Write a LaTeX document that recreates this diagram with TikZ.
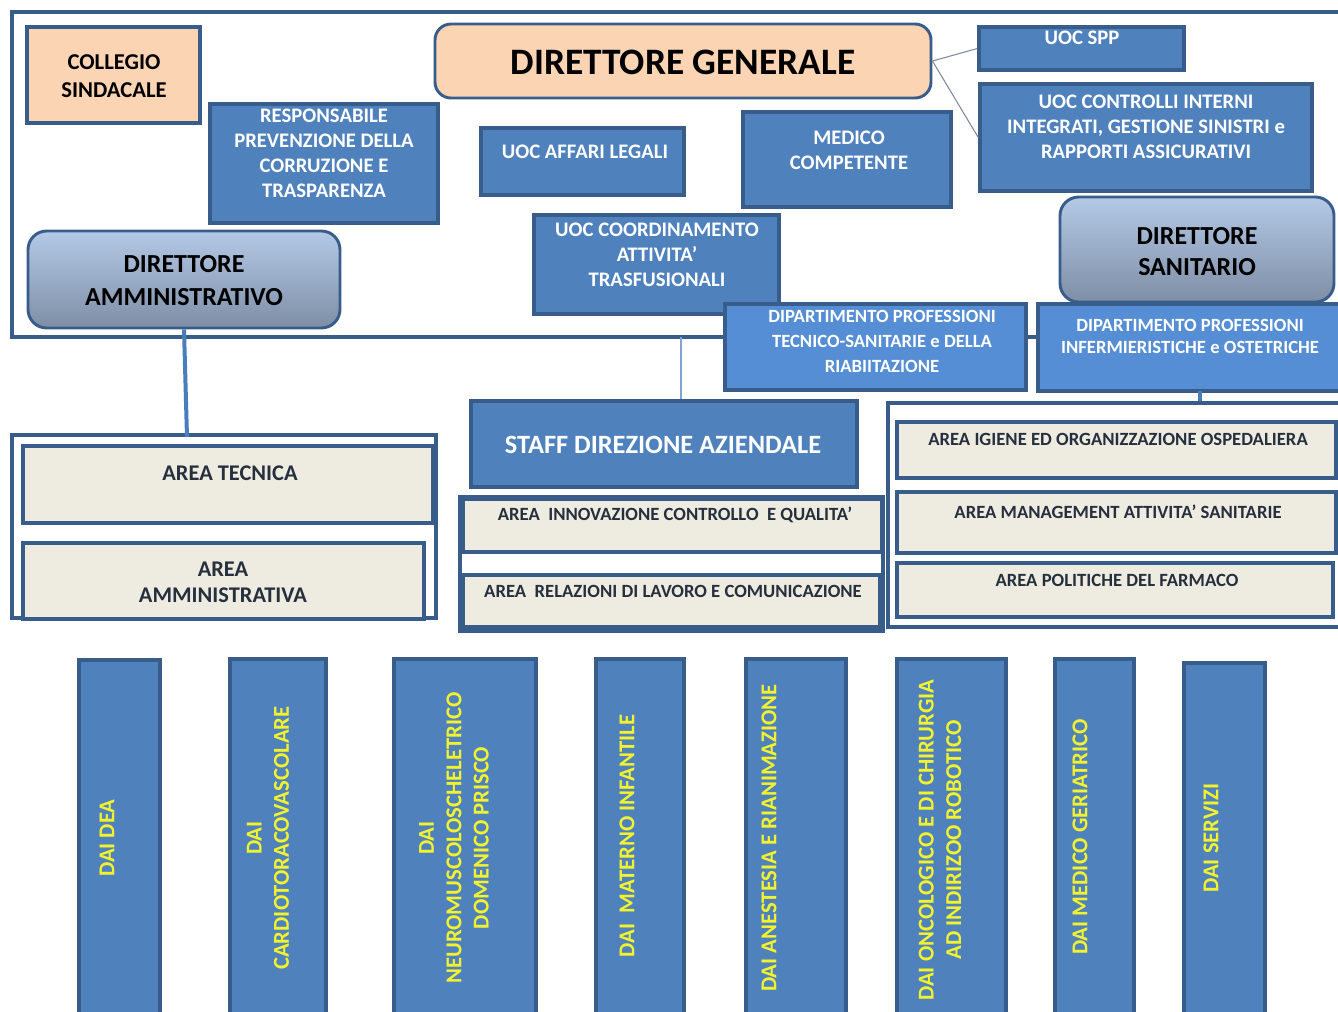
\documentclass[tikz,border=0pt]{standalone}
\usepackage{fontspec}
\setmainfont{Carlito}
\usetikzlibrary{fit}
\definecolor{bord}{HTML}{385D8A}
\definecolor{blu}{HTML}{4F81BD}
\definecolor{blul}{HTML}{558ED5}
\definecolor{peach}{HTML}{FBD4B4}
\definecolor{beige}{HTML}{EEECE1}
\definecolor{dtop}{HTML}{B4C9E6}
\definecolor{dbot}{HTML}{7E8EA6}
\definecolor{ytxt}{HTML}{F2F22E}
\definecolor{atxt}{HTML}{262F3E}
\definecolor{thinc}{HTML}{7F8C9C}
\definecolor{conc}{HTML}{4A7EBB}
\newcommand\fsz[2]{\fontsize{#1}{#2}\selectfont\bfseries}
\tikzset{
  bx/.style={draw=bord, line width=2.6pt, inner sep=0pt},
  bluebx/.style={bx, fill=blu},
  lbluebx/.style={bx, fill=blul},
  peachbx/.style={bx, fill=peach},
  beigebx/.style={bx, fill=beige},
  dirbx/.style={draw=bord, line width=2.2pt, inner sep=0pt, rounded corners=14pt, top color=dtop, bottom color=dbot},
  colbx/.style={draw=bord, line width=2.4pt, inner sep=0pt, fill=blu},
  grpframe/.style={draw=bord, line width=3pt, inner sep=0pt},
  txtbase/.style={inner sep=0pt, align=center},
  wtxt/.style={txtbase, text=white, font={\fsz{15.5}{18.75}}},
  ktxt/.style={txtbase, text=black},
  areatext/.style={txtbase, text=atxt, font={\fsz{14}{17}}},
  coltext/.style={txtbase, text=ytxt, rotate=90, font={\fsz{17}{20.5}}},
  thinline/.style={draw=thinc, line width=0.8pt},
  conline/.style={draw=conc, line width=3pt}
}
\begin{document}
\begin{tikzpicture}[x=0.75pt,y=-0.75pt]
\clip (0,0) rectangle (1338,1011);
\fill[white] (0,0) rectangle (1338,1011);

% group frames
\node[grpframe, fit={(12,12) (1360,337)}] (tf) {};
\node[grpframe, fit={(12,435) (436,618)}] (lf) {};
\node[grpframe, fit={(460,497) (883,631)}] (mf) {};
\node[grpframe, fit={(888,403) (1360,627)}] (rf) {};

% top row
\node[peachbx, fit={(27,27) (200,123)}] (cs) {};
\node[ktxt, font={\fsz{17}{21}}] (cs-t) at (114,76) {COLLEGIO\\SINDACALE};

\node[peachbx, rounded corners=12pt, line width=2.2pt, fit={(435,24) (931,98)}] (dg) {};
\node[ktxt, font={\fsz{28}{32}}] (dg-t) at (683,62) {DIRETTORE GENERALE};

\node[bluebx, fit={(979,27) (1184,70)}] (spp) {};
\node[wtxt] (spp-t) at (1082,38) {UOC SPP};

\node[bluebx, fit={(980,84) (1312,191)}] (ctrl) {};
\node[wtxt] (ctrl-t) at (1146,127) {UOC CONTROLLI INTERNI\\INTEGRATI, GESTIONE SINISTRI e\\RAPPORTI ASSICURATIVI};

\draw[thinline] (dg.east) -- (spp.west);
\draw[thinline] (dg.east) -- (ctrl.west);

\node[bluebx, fit={(210,104) (438,223)}] (rpc) {};
\node[wtxt] (rpc-t) at (324,153) {RESPONSABILE\\PREVENZIONE DELLA\\CORRUZIONE E\\TRASPARENZA};

\node[bluebx, fit={(481,128) (684,195)}] (ual) {};
\node[wtxt] (ual-t) at (585,152) {UOC AFFARI LEGALI};

\node[bluebx, fit={(743,112) (951,207)}] (mc) {};
\node[wtxt] (mc-t) at (849,150) {MEDICO\\COMPETENTE};

\node[bluebx, fit={(534,215) (779,314)}] (uct) {};
\node[wtxt] (uct-t) at (657,255) {UOC COORDINAMENTO\\ATTIVITA’\\TRASFUSIONALI};

\node[dirbx, fit={(28,231) (340,328)}] (da) {};
\node[ktxt, font={\fsz{19.5}{24.75}}] (da-t) at (184,281) {DIRETTORE\\AMMINISTRATIVO};

\node[dirbx, fit={(1060,197) (1334,302)}] (ds) {};
\node[ktxt, font={\fsz{19.5}{23.25}}] (ds-t) at (1197,252) {DIRETTORE\\SANITARIO};

\node[lbluebx, fit={(725,304) (1026,390)}] (dpt) {};
\node[wtxt, font={\fsz{14}{18.75}}] (dpt-t) at (882,341) {DIPARTIMENTO PROFESSIONI\\TECNICO-SANITARIE e DELLA\\RIABIITAZIONE};

\node[lbluebx, fit={(1038,304) (1350,391)}] (dpi) {};
\node[wtxt, font={\fsz{14}{16.5}}] (dpi-t) at (1190,336) {DIPARTIMENTO PROFESSIONI\\INFERMIERISTICHE e OSTETRICHE};

% connectors to lower groups
\coordinate (laf) at (187,437);
\draw[conline] (da.south) -- (laf);
\coordinate (tfb) at (681,337);
\draw[thinline, draw=conc!70] (tfb) -- (tfb |- 0,401);
\coordinate (dpib) at (1200,391);
\draw[conline, line width=2.4pt] (dpib) -- (dpib |- rf.north);

% left group
\node[beigebx, fit={(23,446) (433,523)}] (at) {};
\node[areatext, font={\fsz{16.8}{19.5}}] (at-t) at (230,473) {AREA TECNICA};
\node[beigebx, fit={(23,543) (424,619)}] (aa) {};
\node[areatext, font={\fsz{16.8}{19.5}}] (aa-t) at (223,582) {AREA\\AMMINISTRATIVA};

% staff group
\node[bluebx, fit={(471,401) (857,487)}] (staff) {};
\node[wtxt, font={\fsz{19.8}{24}}] (staff-t) at (663,445) {STAFF DIREZIONE AZIENDALE};
\node[beigebx, fit={(463,499) (882,552)}] (aic) {};
\node[areatext] (aic-t) at (675,515) {AREA~ INNOVAZIONE CONTROLLO~ E QUALITA’};
\node[beigebx, fit={(463,575) (880,627)}] (arl) {};
\node[areatext] (arl-t) at (673,591) {AREA~ RELAZIONI DI LAVORO E COMUNICAZIONE};

% right group
\node[beigebx, fit={(897,422) (1336,478)}] (aig) {};
\node[areatext] (aig-t) at (1118,439) {AREA IGIENE ED ORGANIZZAZIONE OSPEDALIERA};
\node[beigebx, fit={(897,492) (1336,553)}] (ama) {};
\node[areatext] (ama-t) at (1118,512) {AREA MANAGEMENT ATTIVITA’ SANITARIE};
\node[beigebx, fit={(897,563) (1333,617)}] (apf) {};
\node[areatext] (apf-t) at (1117,580) {AREA POLITICHE DEL FARMACO};

% DAI columns
\node[colbx, fit={(79,660) (160,1030)}] (c1) {};
\node[coltext] (c1-t) at (107,838) {DAI DEA};
\node[colbx, fit={(230,659) (326,1030)}] (c2) {};
\node[coltext] (c2-t) at (268,838) {DAI\\CARDIOTORACOVASCOLARE};
\node[colbx, fit={(394,659) (536,1030)}] (c3) {};
\node[coltext] (c3-t) at (454,838) {DAI\\NEUROMUSCOLOSCHELETRICO\\DOMENICO PRISCO};
\node[colbx, fit={(596,659) (684,1030)}] (c4) {};
\node[coltext] (c4-t) at (627,836) {DAI~ MATERNO INFANTILE};
\node[colbx, fit={(746,659) (846,1030)}] (c5) {};
\node[coltext] (c5-t) at (769,838) {DAI ANESTESIA E RIANIMAZIONE};
\node[colbx, fit={(897,659) (1006,1030)}] (c6) {};
\node[coltext] (c6-t) at (940,840) {DAI ONCOLOGICO E DI CHIRURGIA\\AD INDIRIZOO ROBOTICO};
\node[colbx, fit={(1055,659) (1134,1030)}] (c7) {};
\node[coltext] (c7-t) at (1080,837) {DAI MEDICO GERIATRICO};
\node[colbx, fit={(1184,663) (1265,1030)}] (c8) {};
\node[coltext] (c8-t) at (1211,838) {DAI SERVIZI};
\end{tikzpicture}
\end{document}
